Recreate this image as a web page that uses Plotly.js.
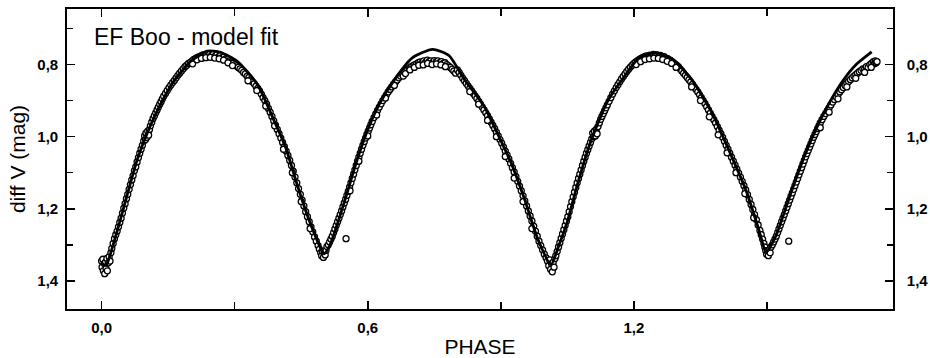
<!DOCTYPE html>
<html>
<head>
<meta charset="utf-8">
<script src="https://cdn.plot.ly/plotly-3.0.1.min.js"></script>
<style>html,body{margin:0;padding:0;background:#fff;}#chart{width:930px;height:358px;}</style>
</head>
<body>
<div id="chart"></div>
<script>
// Model fit curve (phase, diff V mag)
const fitPhase = [0.000,0.010,0.020,0.039,0.058,0.080,0.103,0.133,0.163,0.201,0.238,0.268,0.306,0.351,0.389,0.415,0.438,0.460,0.483,0.501,0.515,0.530,0.550,0.573,0.596,0.626,0.663,0.701,0.746,0.783,0.817,0.862,0.892,0.923,0.953,0.983,1.013,1.030,1.050,1.073,1.103,1.141,1.178,1.212,1.249,1.287,1.332,1.377,1.415,1.453,1.482,1.498,1.520,1.557,1.585,1.611,1.641,1.671,1.701,1.736];
const fitMag = [1.352,1.357,1.325,1.245,1.160,1.065,0.990,0.910,0.846,0.791,0.763,0.766,0.791,0.855,0.956,1.030,1.122,1.205,1.279,1.325,1.300,1.248,1.170,1.076,0.993,0.910,0.837,0.781,0.758,0.775,0.840,0.915,0.990,1.072,1.172,1.283,1.355,1.305,1.235,1.131,1.012,0.901,0.834,0.781,0.767,0.785,0.845,0.937,1.040,1.150,1.260,1.320,1.275,1.145,1.052,0.978,0.905,0.845,0.800,0.765];

// Observed points [phase, diff V mag]
const observed = [
[0.000,1.345],[0.001,1.362],[0.003,1.340],[0.004,1.372],[0.006,1.352],[0.007,1.380],[0.009,1.348],[0.010,1.366],[0.012,1.338],[0.013,1.372],
[0.015,1.350],[0.017,1.333],[0.019,1.345],[0.021,1.322],[0.023,1.310],[0.026,1.296],[0.029,1.283],[0.032,1.272],[0.035,1.262],[0.038,1.250],
[0.041,1.238],[0.044,1.226],[0.047,1.212],[0.050,1.198],[0.053,1.186],[0.056,1.172],[0.059,1.160],[0.062,1.146],[0.065,1.133],[0.068,1.120],
[0.071,1.108],[0.074,1.094],[0.077,1.084],[0.080,1.070],[0.083,1.058],[0.086,1.046],[0.089,1.035],[0.092,1.024],[0.095,1.012],[0.097,0.998],
[0.099,1.008],[0.100,0.990],[0.102,1.002],[0.104,0.985],[0.106,0.996],[0.108,0.980],[0.110,0.970],[0.113,0.960],[0.116,0.950],[0.119,0.942],
[0.122,0.934],[0.125,0.926],[0.128,0.918],[0.131,0.910],[0.134,0.903],[0.137,0.895],[0.140,0.888],[0.144,0.880],[0.148,0.872],[0.152,0.864],
[0.156,0.857],[0.160,0.850],[0.164,0.844],[0.168,0.837],[0.172,0.830],[0.176,0.824],[0.180,0.818],[0.184,0.812],[0.188,0.806],[0.192,0.802],
[0.196,0.797],[0.200,0.794],[0.204,0.790],[0.208,0.786],[0.212,0.783],[0.216,0.780],[0.220,0.778],[0.224,0.776],[0.228,0.773],[0.232,0.779],
[0.236,0.771],[0.240,0.776],[0.244,0.770],[0.248,0.775],[0.252,0.771],[0.256,0.777],[0.260,0.772],[0.264,0.778],[0.268,0.775],[0.272,0.780],
[0.276,0.779],[0.280,0.784],[0.284,0.786],[0.288,0.790],[0.292,0.793],[0.296,0.797],[0.300,0.800],[0.304,0.804],[0.308,0.808],[0.312,0.812],
[0.316,0.816],[0.320,0.822],[0.324,0.826],[0.328,0.832],[0.332,0.836],[0.336,0.842],[0.340,0.848],[0.344,0.853],[0.348,0.860],[0.352,0.866],
[0.356,0.873],[0.360,0.882],[0.364,0.892],[0.368,0.900],[0.372,0.910],[0.376,0.922],[0.380,0.932],[0.384,0.944],[0.388,0.956],[0.392,0.968],
[0.396,0.980],[0.400,0.992],[0.404,1.004],[0.408,1.016],[0.412,1.028],[0.416,1.040],[0.420,1.052],[0.424,1.066],[0.428,1.080],[0.432,1.096],
[0.436,1.112],[0.440,1.128],[0.444,1.144],[0.448,1.160],[0.452,1.176],[0.456,1.192],[0.460,1.208],[0.464,1.222],[0.468,1.236],[0.472,1.250],
[0.476,1.264],[0.480,1.278],[0.484,1.290],[0.488,1.302],[0.491,1.312],[0.494,1.322],[0.496,1.330],[0.498,1.318],[0.500,1.335],[0.502,1.322],
[0.504,1.328],[0.506,1.315],[0.508,1.305],[0.511,1.300],[0.514,1.292],[0.517,1.284],[0.520,1.276],[0.523,1.266],[0.526,1.256],[0.529,1.246],
[0.532,1.236],[0.535,1.226],[0.538,1.216],[0.541,1.206],[0.544,1.195],[0.547,1.184],[0.550,1.174],[0.551,1.283],[0.553,1.163],[0.556,1.152],
[0.559,1.140],[0.562,1.128],[0.565,1.116],[0.568,1.104],[0.571,1.092],[0.574,1.080],[0.577,1.068],[0.580,1.057],[0.583,1.046],[0.586,1.035],
[0.589,1.024],[0.592,1.014],[0.595,1.004],[0.598,0.994],[0.601,0.985],[0.604,0.976],[0.607,0.967],[0.610,0.958],[0.614,0.947],[0.618,0.937],
[0.622,0.927],[0.626,0.918],[0.630,0.909],[0.634,0.900],[0.638,0.892],[0.642,0.884],[0.646,0.876],[0.650,0.869],[0.654,0.862],[0.658,0.855],
[0.662,0.849],[0.666,0.843],[0.670,0.837],[0.674,0.832],[0.678,0.827],[0.682,0.822],[0.686,0.818],[0.690,0.814],[0.694,0.810],[0.698,0.806],
[0.702,0.803],[0.706,0.800],[0.710,0.798],[0.714,0.795],[0.718,0.793],[0.722,0.796],[0.726,0.790],[0.730,0.794],[0.734,0.788],[0.738,0.792],
[0.742,0.790],[0.746,0.795],[0.750,0.789],[0.754,0.793],[0.758,0.790],[0.762,0.795],[0.766,0.792],[0.770,0.797],[0.774,0.795],[0.778,0.800],
[0.782,0.804],[0.786,0.808],[0.790,0.813],[0.794,0.818],[0.798,0.824],[0.802,0.815],[0.806,0.822],[0.810,0.830],[0.814,0.838],[0.818,0.845],
[0.822,0.852],[0.826,0.859],[0.830,0.866],[0.834,0.873],[0.838,0.880],[0.842,0.887],[0.846,0.894],[0.850,0.902],[0.854,0.910],[0.858,0.918],
[0.862,0.926],[0.866,0.934],[0.870,0.942],[0.874,0.951],[0.878,0.960],[0.882,0.969],[0.886,0.978],[0.890,0.988],[0.894,0.998],[0.898,1.008],
[0.902,1.018],[0.906,1.029],[0.910,1.040],[0.914,1.051],[0.918,1.062],[0.922,1.074],[0.926,1.086],[0.930,1.098],[0.934,1.111],[0.938,1.124],
[0.942,1.137],[0.946,1.150],[0.950,1.164],[0.954,1.178],[0.958,1.192],[0.962,1.206],[0.966,1.220],[0.970,1.234],[0.974,1.248],[0.978,1.262],
[0.982,1.276],[0.986,1.290],[0.990,1.302],[0.994,1.314],[0.998,1.326],[1.002,1.336],[1.005,1.345],[1.008,1.358],[1.010,1.342],[1.012,1.368],
[1.014,1.352],[1.016,1.375],[1.018,1.348],[1.020,1.362],[1.022,1.338],[1.024,1.330],[1.027,1.318],[1.030,1.306],[1.033,1.294],[1.036,1.282],
[1.039,1.270],[1.042,1.258],[1.045,1.246],[1.048,1.234],[1.051,1.222],[1.054,1.208],[1.057,1.194],[1.060,1.180],[1.063,1.167],[1.066,1.154],
[1.069,1.141],[1.072,1.128],[1.075,1.116],[1.078,1.104],[1.081,1.092],[1.084,1.080],[1.087,1.068],[1.090,1.057],[1.093,1.046],[1.096,1.036],
[1.099,1.026],[1.102,1.016],[1.105,1.006],[1.107,0.990],[1.109,1.000],[1.111,0.985],[1.113,0.998],[1.115,0.980],[1.117,0.992],[1.119,0.972],
[1.122,0.962],[1.125,0.952],[1.128,0.944],[1.131,0.936],[1.134,0.928],[1.137,0.920],[1.140,0.912],[1.144,0.902],[1.148,0.892],[1.152,0.882],
[1.156,0.873],[1.160,0.864],[1.164,0.856],[1.168,0.848],[1.172,0.840],[1.176,0.833],[1.180,0.826],[1.184,0.819],[1.188,0.813],[1.192,0.807],
[1.196,0.802],[1.200,0.797],[1.204,0.793],[1.208,0.789],[1.212,0.786],[1.216,0.783],[1.220,0.780],[1.224,0.778],[1.228,0.776],[1.232,0.779],
[1.236,0.774],[1.240,0.777],[1.244,0.772],[1.248,0.776],[1.252,0.773],[1.256,0.777],[1.260,0.775],[1.264,0.779],[1.268,0.778],[1.272,0.782],
[1.276,0.784],[1.280,0.787],[1.284,0.790],[1.288,0.794],[1.292,0.798],[1.296,0.802],[1.300,0.806],[1.304,0.812],[1.308,0.818],[1.312,0.824],
[1.316,0.830],[1.320,0.836],[1.324,0.842],[1.328,0.848],[1.332,0.855],[1.336,0.862],[1.340,0.869],[1.344,0.876],[1.348,0.884],[1.352,0.892],
[1.356,0.900],[1.360,0.908],[1.364,0.917],[1.368,0.926],[1.372,0.935],[1.376,0.944],[1.380,0.953],[1.384,0.962],[1.388,0.972],[1.392,0.982],
[1.396,0.992],[1.400,1.002],[1.404,1.013],[1.408,1.024],[1.412,1.035],[1.416,1.046],[1.420,1.057],[1.424,1.068],[1.428,1.079],[1.432,1.090],
[1.436,1.101],[1.440,1.112],[1.444,1.124],[1.448,1.136],[1.452,1.148],[1.456,1.161],[1.460,1.174],[1.464,1.188],[1.468,1.202],[1.472,1.216],
[1.476,1.230],[1.480,1.245],[1.484,1.260],[1.487,1.272],[1.490,1.284],[1.493,1.296],[1.495,1.306],[1.497,1.316],[1.499,1.326],[1.501,1.318],
[1.503,1.330],[1.505,1.314],[1.507,1.322],[1.509,1.306],[1.512,1.300],[1.515,1.292],[1.518,1.284],[1.521,1.276],[1.524,1.266],[1.527,1.256],
[1.530,1.246],[1.533,1.236],[1.536,1.226],[1.539,1.216],[1.542,1.206],[1.545,1.196],[1.548,1.186],[1.549,1.290],[1.551,1.176],[1.554,1.166],
[1.557,1.156],[1.560,1.146],[1.563,1.136],[1.566,1.126],[1.569,1.116],[1.572,1.106],[1.575,1.096],[1.578,1.086],[1.581,1.076],[1.584,1.066],
[1.587,1.056],[1.590,1.047],[1.593,1.038],[1.596,1.029],[1.599,1.020],[1.602,1.011],[1.605,1.002],[1.608,0.994],[1.611,0.986],[1.614,0.978],
[1.617,0.970],[1.620,0.962],[1.624,0.953],[1.628,0.944],[1.632,0.936],[1.636,0.928],[1.640,0.920],[1.644,0.912],[1.648,0.904],[1.652,0.897],
[1.656,0.890],[1.660,0.883],[1.664,0.876],[1.668,0.870],[1.672,0.864],[1.676,0.858],[1.680,0.852],[1.684,0.847],[1.688,0.842],[1.692,0.837],
[1.696,0.832],[1.700,0.828],[1.704,0.824],[1.708,0.820],[1.712,0.816],[1.716,0.812],[1.720,0.813],[1.724,0.806],[1.728,0.808],[1.732,0.800],
[1.736,0.796],[1.740,0.792],[1.742,0.798],[1.744,0.790],[1.746,0.795],[1.748,0.792]
];
// Second group of observed points (scatter on the band)
const observed2 = [
[0.205,0.798],[0.215,0.787],[0.225,0.783],[0.235,0.781],[0.245,0.780],[0.255,0.782],[0.265,0.784],[0.275,0.788],[0.285,0.795],[0.295,0.803],
[0.330,0.845],[0.350,0.872],[0.370,0.915],[0.390,0.970],[0.410,1.035],[0.430,1.100],[0.450,1.180],[0.470,1.255],
[0.560,1.150],[0.580,1.068],[0.600,0.998],[0.620,0.940],[0.640,0.893],[0.660,0.858],[0.680,0.832],
[0.685,0.825],[0.695,0.815],[0.705,0.808],[0.715,0.802],[0.725,0.801],[0.735,0.797],[0.745,0.800],[0.755,0.798],[0.765,0.801],[0.775,0.806],
[0.830,0.875],[0.850,0.910],[0.870,0.955],[0.890,1.000],[0.910,1.055],[0.930,1.115],[0.950,1.180],[0.970,1.255],
[1.205,0.800],[1.215,0.792],[1.225,0.786],[1.235,0.784],[1.245,0.782],[1.255,0.783],[1.265,0.786],[1.275,0.791],[1.285,0.797],[1.295,0.808],
[1.330,0.862],[1.350,0.900],[1.370,0.945],[1.390,0.995],[1.410,1.045],[1.430,1.100],[1.450,1.158],[1.470,1.225],
[1.620,0.975],[1.640,0.932],[1.660,0.895],[1.680,0.862],[1.700,0.838],[1.720,0.822],[1.735,0.808]
];
const allObs = observed.concat(observed2);
const obsPhase = allObs.map(p => p[0]);
const obsMag = allObs.map(p => p[1]);

const xRange = [-0.078, 1.784];
const yRange = [1.478, 0.646];
const titleText = 'EF Boo - model fit';
const xTitle = 'PHASE';
const yTitle = 'diff V (mag)';

const fontFam = 'Liberation Sans, Arial, sans-serif';
const tickFont = {family: fontFam, size: 15, color: '#000', weight: 'bold'};

const traces = [
  {
    x: obsPhase, y: obsMag, type: 'scatter', mode: 'markers',
    marker: {symbol: 'circle', size: 6, color: '#fff', line: {color: '#000', width: 1.3}},
    hoverinfo: 'skip', showlegend: false
  },
  {
    x: fitPhase, y: fitMag, type: 'scatter', mode: 'lines',
    line: {color: '#000', width: 2.8, shape: 'spline', smoothing: 0.6},
    hoverinfo: 'skip', showlegend: false
  },
  {
    x: fitPhase, y: fitMag, type: 'scatter', mode: 'lines', yaxis: 'y2',
    line: {color: 'rgba(0,0,0,0)', width: 0}, opacity: 0,
    hoverinfo: 'skip', showlegend: false
  }
];

const layout = {
  width: 930, height: 358,
  margin: {l: 67, r: 37, t: 9, b: 49, pad: 0},
  paper_bgcolor: '#fff', plot_bgcolor: '#fff',
  separators: ',.',
  showlegend: false,
  xaxis: {
    range: xRange, autorange: false,
    showgrid: false, zeroline: false,
    showline: true, linecolor: '#000', linewidth: 1.8, mirror: 'ticks',
    ticks: 'inside', ticklen: 8, tickwidth: 1.5, tickcolor: '#000',
    tick0: 0, dtick: 0.6, tickformat: '.1f',
    minor: {dtick: 0.3, ticks: 'inside', ticklen: 7, tickwidth: 1.5, tickcolor: '#000'},
    tickfont: tickFont, ticklabelstandoff: 4,
    title: {text: xTitle, font: {family: fontFam, size: 21, color: '#000'}, standoff: 9}
  },
  yaxis: {
    range: yRange, autorange: false,
    showgrid: false, zeroline: false,
    showline: true, linecolor: '#000', linewidth: 1.8, mirror: false,
    ticks: 'inside', ticklen: 8, tickwidth: 1.5, tickcolor: '#000',
    tick0: 0, dtick: 0.2, tickformat: '.1f',
    minor: {dtick: 0.1, ticks: 'inside', ticklen: 6, tickwidth: 1.5, tickcolor: '#000'},
    tickfont: tickFont, ticklabelstandoff: 4,
    title: {text: yTitle, font: {family: fontFam, size: 21, color: '#000'}, standoff: 6}
  },
  yaxis2: {
    overlaying: 'y', side: 'right',
    range: yRange, autorange: false,
    showgrid: false, zeroline: false,
    showline: true, linecolor: '#000', linewidth: 1.8,
    ticks: 'inside', ticklen: 8, tickwidth: 1.5, tickcolor: '#000',
    tick0: 0, dtick: 0.2, tickformat: '.1f',
    minor: {dtick: 0.1, ticks: 'inside', ticklen: 6, tickwidth: 1.5, tickcolor: '#000'},
    tickfont: tickFont, ticklabelstandoff: 9
  },
  annotations: [{
    text: titleText, xref: 'paper', yref: 'paper', x: 0.030, y: 0.905,
    xanchor: 'left', yanchor: 'middle', showarrow: false,
    font: {family: fontFam, size: 23, color: '#000'}
  }]
};

Plotly.newPlot('chart', traces, layout, {staticPlot: true, displayModeBar: false});
</script>
</body>
</html>
